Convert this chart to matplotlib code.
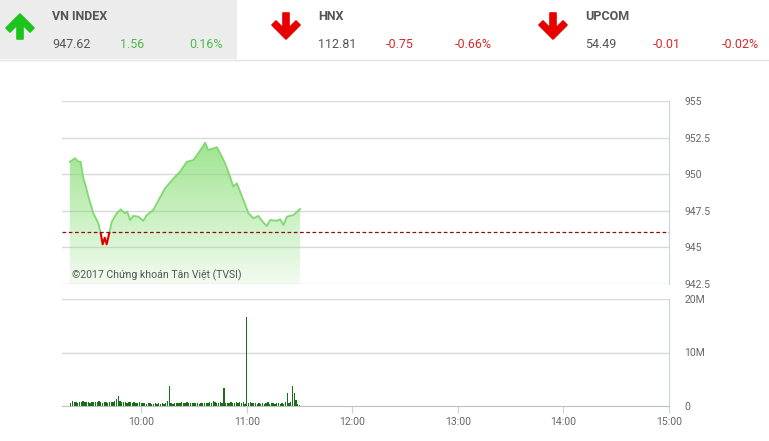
import numpy as np
import matplotlib.pyplot as plt
from matplotlib.patches import Polygon, Rectangle

plt.rcParams['font.family'] = ['Roboto', 'DejaVu Sans']

# Index values (minutes after 9:00, VN-Index)
price_minutes = [19.5, 22.4, 24.3, 25.6, 27.1, 28.6, 30.0, 32.8, 35.6, 37.0,
                 38.1, 39.3, 40.4, 41.9, 43.3, 46.1, 48.4, 50.8, 52.1, 53.7,
                 55.5, 58.4, 61.2, 63.2, 66.9, 68.9, 73.6, 79.3, 82.1, 85.9,
                 89.7, 94.4, 96.3, 98.2, 101.0, 103.0, 104.9, 107.7, 110.5, 112.4,
                 114.4, 118.1, 121.0, 123.8, 126.6, 129.5, 131.4, 133.3, 137.1, 139.0,
                 140.9, 142.8, 146.5, 150.3]
price_values = [950.85, 951.09, 950.85, 950.85, 949.74, 949.15, 948.46, 947.33, 946.67, 945.98,
                945.21, 945.66, 945.21, 946.00, 946.76, 947.33, 947.60, 947.33, 947.44, 946.87,
                947.15, 947.10, 946.82, 947.21, 947.56, 948.01, 949.04, 949.83, 950.17, 950.85,
                950.97, 951.77, 952.15, 951.65, 951.77, 951.84, 951.43, 950.74, 949.83, 949.15,
                949.38, 948.24, 947.33, 946.99, 947.15, 946.69, 946.46, 946.87, 946.82, 946.92,
                946.53, 947.10, 947.21, 947.62]
prev_close = 946.06

# Volume per minute from 9:20 to 11:30 (millions)
vol_minutes = np.arange(20, 151)
volumes = [0.6, 0.9, 0.8, 0.7, 0.6, 0.8, 0.8, 0.9, 0.7, 0.8,
           0.7, 0.6, 0.7, 0.8, 0.7, 0.8, 0.9, 0.7, 0.6, 0.8,
           0.7, 0.6, 0.8, 0.7, 0.7, 0.9, 1.4, 1.8, 0.9, 0.7,
           0.8, 0.7, 0.6, 0.8, 0.7, 0.6, 0.7, 0.5, 0.6, 0.7,
           0.5, 0.6, 0.5, 0.4, 0.5, 0.5, 0.4, 0.4, 0.5, 0.4,
           0.5, 0.4, 0.6, 0.4, 0.5, 0.9, 3.8, 0.5, 0.4, 0.6,
           0.5, 0.6, 0.5, 0.7, 0.6, 0.5, 0.7, 0.6, 0.5, 0.6,
           0.5, 0.6, 0.5, 0.4, 0.6, 0.5, 0.5, 0.6, 0.5, 0.7,
           0.6, 1.0, 0.8, 0.5, 0.6, 0.7, 0.5, 3.3, 0.5, 0.6,
           0.5, 0.7, 0.6, 0.5, 0.8, 0.6, 0.7, 0.5, 0.8, 0.4,
           16.7, 0.6, 0.7, 0.5, 0.6, 0.5, 0.4, 0.5, 0.4, 0.5,
           0.4, 0.5, 0.8, 0.4, 0.5, 0.6, 0.4, 0.5, 0.6, 0.4,
           0.5, 0.4, 0.7, 2.4, 0.5, 0.8, 3.7, 2.4, 1.2, 0.3,
           0.2]

price_ticks = [942.5, 945, 947.5, 950, 952.5, 955]
price_labels = ['942.5', '945', '947.5', '950', '952.5', '955']
vol_ticks = [0, 10, 20]
vol_labels = ['0', '10M', '20M']
time_ticks = [60, 120, 180, 240, 300, 360]
time_labels = ['10:00', '11:00', '12:00', '13:00', '14:00', '15:00']

# header data
index_names = ['VN INDEX', 'HNX', 'UPCOM']
index_values = ['947.62', '112.81', '54.49']
index_changes = ['1.56', '-0.75', '-0.01']
index_pcts = ['0.16%', '-0.66%', '-0.02%']
index_up = [True, False, False]

W, H = 769, 441
fig = plt.figure(figsize=(W / 100, H / 100), dpi=100)
grid_c = '#d9d9d9'
axis_c = '#c8d3dc'
label_c = '#666666'

# ---- price panel ----
ax = fig.add_axes([62 / W, 1 - 284 / H, 607 / W, 183 / H])
ax.set_xlim(15, 360)
ax.set_ylim(942.5, 955)
for t in price_ticks:
    ax.axhline(t, color=grid_c, lw=1, zorder=1)

fill = ax.fill_between(price_minutes, price_values, 942.5, color='none', lw=0)
grad = np.linspace(0, 1, 256).reshape(-1, 1)
rgba = np.zeros((256, 1, 4))
rgba[..., 0] = 0.50
rgba[..., 1] = 0.86
rgba[..., 2] = 0.42
rgba[..., 3] = 0.10 + 0.66 * grad[:, :]
img = ax.imshow(rgba, extent=[15, 360, 942.5, 952.3], origin='lower',
                aspect='auto', zorder=2, interpolation='bilinear')
img.set_clip_path(fill.get_paths()[0], transform=ax.transData)

# green above the reference, red below it
above = Rectangle((0, prev_close), 400, 20, transform=ax.transData)
below = Rectangle((0, 930), 400, prev_close - 930, transform=ax.transData)
l1, = ax.plot(price_minutes, price_values, color='#7fd970', lw=1.3, zorder=3)
l1.set_clip_path(above)
l2, = ax.plot(price_minutes, price_values, color='#e00000', lw=1.5, zorder=3)
l2.set_clip_path(below)
ax.axhline(prev_close, color='#8b1010', lw=0.9, dashes=(3, 2), zorder=4)

ax.text(20.7, 943.1, '©2017 Chứng khoán Tân Việt (TVSI)', fontsize=7.6,
        color='#555555', va='center', ha='left', zorder=5)

ax.set_yticks(price_ticks)
ax.set_yticklabels(price_labels)
ax.yaxis.tick_right()
ax.tick_params(axis='y', length=0, pad=11, labelsize=7.5, labelcolor=label_c)
ax.set_xticks([])
for s in ['left', 'top', 'bottom']:
    ax.spines[s].set_visible(False)
ax.spines['right'].set_color(axis_c)

# ---- volume panel ----
axv = fig.add_axes([62 / W, 1 - 406 / H, 607 / W, 107 / H])
axv.set_xlim(15, 360)
axv.set_ylim(0, 20)
for t in vol_ticks[1:]:
    axv.axhline(t, color=grid_c, lw=1, zorder=1)
axv.bar(vol_minutes, volumes, width=0.75, color='#176f17', zorder=3)
axv.set_yticks(vol_ticks)
axv.set_yticklabels(vol_labels)
axv.yaxis.tick_right()
axv.tick_params(axis='y', length=0, pad=11, labelsize=7.5, labelcolor=label_c)
axv.set_xticks(time_ticks)
axv.set_xticklabels(time_labels)
axv.tick_params(axis='x', length=5, color=axis_c, labelsize=7.5,
                labelcolor=label_c, pad=3)
for s in ['left', 'top']:
    axv.spines[s].set_visible(False)
axv.spines['right'].set_color(axis_c)
axv.spines['bottom'].set_color('#c0c0c0')

# ---- header ----
hx = fig.add_axes([0, 0, 1, 1], zorder=0)
hx.set_xlim(0, W)
hx.set_ylim(H, 0)
hx.axis('off')
hx.add_patch(Rectangle((0, 0), 237, 59, color='#ececec', lw=0))
hx.plot([0, W], [60, 60], color='#e4e4e4', lw=1)

col_x = [5, 273, 540]
for i, name in enumerate(index_names):
    x0 = col_x[i]
    if index_up[i]:
        arrow = [(x0 + 15, 14), (x0 + 29, 28), (x0 + 25, 32), (x0 + 18, 25), (x0 + 18, 39),
                 (x0 + 12, 39), (x0 + 12, 25), (x0 + 5, 32), (x0 + 1, 28)]
        hx.add_patch(Polygon(arrow, closed=True, facecolor='#1dc41d', edgecolor='#1dc41d',
                             lw=1.2, joinstyle='round'))
        chg_c = '#4cbb4c'
    else:
        arrow = [(x0 + 13, 39), (x0 + 27, 25), (x0 + 23, 21), (x0 + 16, 28), (x0 + 16, 13),
                 (x0 + 10, 13), (x0 + 10, 28), (x0 + 3, 21), (x0 - 1, 25)]
        hx.add_patch(Polygon(arrow, closed=True, facecolor='#e80000', edgecolor='#e80000',
                             lw=1.2, joinstyle='round'))
        chg_c = '#d42a2a'
    tx = x0 + 47 if index_up[i] else x0 + 45
    hx.text(tx, 17, name, fontsize=9, fontweight='bold', color='#555555', va='center')
    hx.text(tx, 44.5, index_values[i], fontsize=9, color='#555555', va='center')
    hx.text(tx + 68, 44.5, index_changes[i], fontsize=9, color=chg_c, va='center')
    hx.text(tx + 137, 44.5, index_pcts[i], fontsize=9, color=chg_c, va='center')

fig.savefig('out.png', dpi=100)
